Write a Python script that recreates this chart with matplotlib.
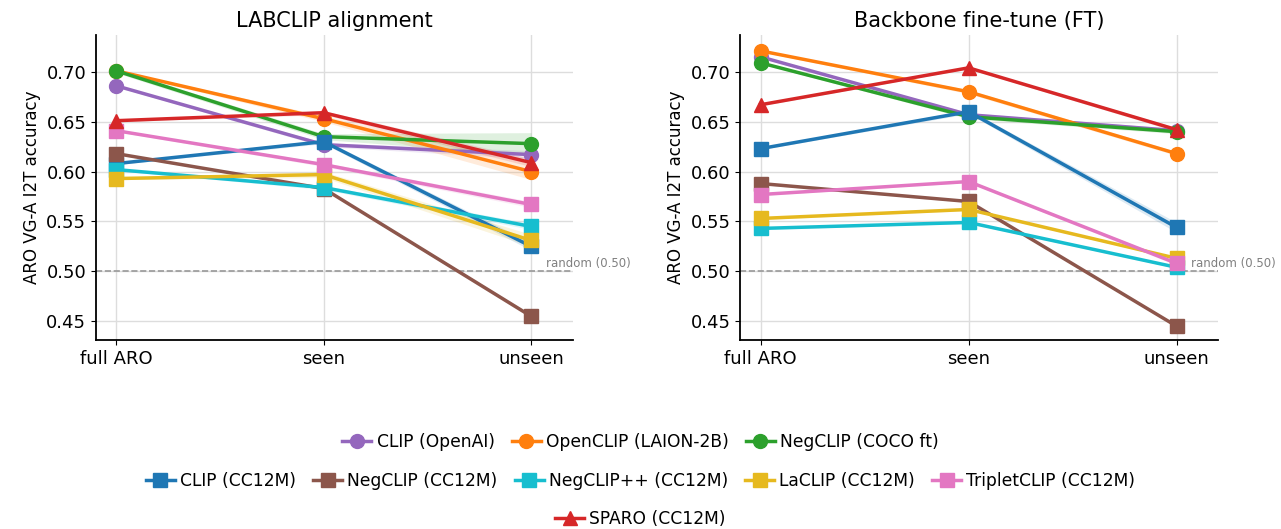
import matplotlib.pyplot as plt
import numpy as np

# ------------------------------------------------------------------
# ARO VG-A I2T accuracy on full ARO / seen / unseen splits
# ------------------------------------------------------------------
splits = ["full ARO", "seen", "unseen"]
titles = ["LABCLIP alignment", "Backbone fine-tune (FT)"]

models = ["CLIP (OpenAI)", "OpenCLIP (LAION-2B)", "NegCLIP (COCO ft)",
          "CLIP (CC12M)", "NegCLIP (CC12M)", "NegCLIP++ (CC12M)",
          "LaCLIP (CC12M)", "TripletCLIP (CC12M)", "SPARO (CC12M)"]
colors = ["#9467bd", "#ff7f0e", "#2ca02c",
          "#1f77b4", "#8c564b", "#17becf",
          "#e6b91f", "#e377c2", "#d62728"]
markers = ["o", "o", "o", "s", "s", "s", "s", "s", "^"]

# LABCLIP alignment
labclip = [
    [0.686, 0.627, 0.617],
    [0.701, 0.653, 0.600],
    [0.701, 0.635, 0.628],
    [0.608, 0.630, 0.525],
    [0.618, 0.583, 0.455],
    [0.602, 0.584, 0.545],
    [0.593, 0.597, 0.531],
    [0.641, 0.607, 0.567],
    [0.651, 0.659, 0.609],
]
labclip_std = [
    [0.001, 0.002, 0.004],
    [0.001, 0.003, 0.008],
    [0.002, 0.003, 0.011],
    [0.001, 0.002, 0.004],
    [0.001, 0.001, 0.002],
    [0.001, 0.002, 0.003],
    [0.001, 0.003, 0.006],
    [0.001, 0.002, 0.003],
    [0.001, 0.002, 0.004],
]

# Backbone fine-tune
ft = [
    [0.715, 0.657, 0.641],
    [0.721, 0.680, 0.618],
    [0.709, 0.655, 0.640],
    [0.623, 0.660, 0.544],
    [0.588, 0.570, 0.445],
    [0.543, 0.549, 0.504],
    [0.553, 0.562, 0.513],
    [0.577, 0.590, 0.508],
    [0.667, 0.704, 0.642],
]
ft_std = [
    [0.001, 0.002, 0.002],
    [0.001, 0.002, 0.002],
    [0.001, 0.002, 0.002],
    [0.001, 0.002, 0.005],
    [0.001, 0.001, 0.001],
    [0.001, 0.001, 0.001],
    [0.001, 0.001, 0.001],
    [0.001, 0.001, 0.002],
    [0.001, 0.001, 0.002],
]

fig = plt.figure(figsize=(12.81, 5.29), dpi=100)
ax_l = fig.add_axes([0.075, 0.357, 0.372, 0.577])
ax_r = fig.add_axes([0.578, 0.357, 0.373, 0.577])

x = np.arange(len(splits))
handles = []
for ax, title, data, std in [(ax_l, titles[0], labclip, labclip_std),
                             (ax_r, titles[1], ft, ft_std)]:
    handles = []
    for name, c, m, vals, sd in zip(models, colors, markers, data, std):
        vals = np.array(vals)
        sd = np.array(sd)
        ax.fill_between(x, vals - sd, vals + sd, color=c, alpha=0.15, lw=0)
        h, = ax.plot(x, vals, color=c, marker=m, lw=2.5, ms=10,
                     label=name, zorder=3)
        handles.append(h)

    ax.axhline(0.5, color="#999999", ls="--", lw=1.2, zorder=1)
    ax.text(2.07, 0.5015, "random (0.50)", color="#808080", fontsize=8.5,
            ha="left", va="bottom")

    ax.set_xticks(x)
    ax.set_xticklabels(splits)
    ax.set_xlim(-0.097, 2.2)
    ax.set_ylim(0.431, 0.737)
    ax.set_yticks([0.45, 0.50, 0.55, 0.60, 0.65, 0.70])
    ax.set_yticklabels(["0.45", "0.50", "0.55", "0.60", "0.65", "0.70"])
    ax.tick_params(labelsize=13)
    ax.set_ylabel("ARO VG-A I2T accuracy", fontsize=12)
    ax.set_title(title, fontsize=15)
    ax.grid(True, color="#dddddd", lw=1)
    ax.set_axisbelow(True)
    ax.spines["top"].set_visible(False)
    ax.spines["right"].set_visible(False)
    ax.spines["left"].set_linewidth(1.3)
    ax.spines["bottom"].set_linewidth(1.3)

# ------------------------------------------------------------------
# Three-row legend under the panels
# ------------------------------------------------------------------
rows = [handles[0:3], handles[3:8], handles[8:9]]
row_y = [0.165, 0.091, 0.019]
for hs, yy in zip(rows, row_y):
    fig.legend(handles=hs, loc="center", bbox_to_anchor=(0.5, yy),
               ncol=len(hs), frameon=False, fontsize=12.3,
               handlelength=1.7, handletextpad=0.3, columnspacing=1.0)

plt.savefig("out.png", dpi=100)
